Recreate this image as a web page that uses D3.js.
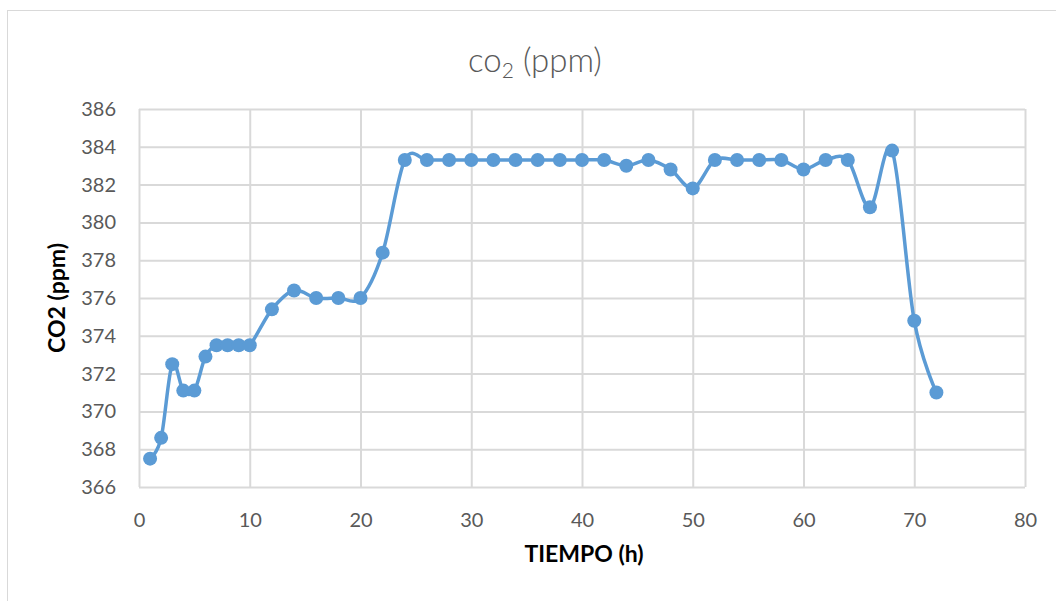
<!DOCTYPE html>
<html>
<head>
<meta charset="utf-8">
<script src="https://cdn.jsdelivr.net/npm/d3@7"></script>
<style>
  html, body { margin: 0; padding: 0; background: #fff; }
  svg { display: block; }
</style>
</head>
<body>
<svg id="chart" width="1056" height="601"></svg>
<script>
// Hourly CO2 readings (ppm)
const hours = [1, 2, 3, 4, 5, 6, 7, 8, 9, 10, 12, 14, 16, 18, 20, 22, 24, 26, 28, 30,
               32, 34, 36, 38, 40, 42, 44, 46, 48, 50, 52, 54, 56, 58, 60, 62, 64, 66, 68, 70, 72];
const co2 = [367.5, 368.6, 372.5, 371.1, 371.1, 372.9, 373.5, 373.5, 373.5, 373.5,
             375.4, 376.4, 376.0, 376.0, 376.0, 378.4, 383.3, 383.3, 383.3, 383.3,
             383.3, 383.3, 383.3, 383.3, 383.3, 383.3, 383.0, 383.3, 382.8, 381.8,
             383.3, 383.3, 383.3, 383.3, 382.8, 383.3, 383.3, 380.8, 383.8, 374.8, 371.0];
const xTicks = [0, 10, 20, 30, 40, 50, 60, 70, 80];
const yTicks = [366, 368, 370, 372, 374, 376, 378, 380, 382, 384, 386];

const points = hours.map((h, i) => ({ h, v: co2[i] }));

const svg = d3.select("#chart");
const plot = { left: 139, right: 1025, top: 109, bottom: 487 };

const x = d3.scaleLinear().domain([0, 80]).range([plot.left, plot.right]);
const y = d3.scaleLinear().domain([366, 386]).range([plot.bottom, plot.top]);

const font = "Lato, 'Open Sans', sans-serif";
const gray = "#595959";
const gridColor = "#d9d9d9";

// Chart frame
svg.append("rect")
  .attr("x", 7.5).attr("y", 10.5)
  .attr("width", 1060).attr("height", 600)
  .attr("fill", "none").attr("stroke", gridColor).attr("stroke-width", 1);

// Horizontal gridlines
svg.append("g")
  .attr("transform", `translate(${plot.left},0)`)
  .call(d3.axisLeft(y).tickValues(yTicks).tickSize(-(plot.right - plot.left)).tickFormat(""))
  .call(g => g.select(".domain").remove())
  .call(g => g.selectAll("line").attr("stroke", gridColor).attr("stroke-width", 2));

// Vertical gridlines
svg.append("g")
  .attr("transform", `translate(0,${plot.bottom})`)
  .call(d3.axisBottom(x).tickValues(xTicks).tickSize(-(plot.bottom - plot.top)).tickFormat(""))
  .call(g => g.select(".domain").remove())
  .call(g => g.selectAll("line").attr("stroke", gridColor).attr("stroke-width", 2));

// Y tick labels
svg.append("g")
  .attr("transform", `translate(${plot.left},0)`)
  .call(d3.axisLeft(y).tickValues(yTicks).tickSize(0).tickPadding(23).tickFormat(d3.format("d")))
  .call(g => g.select(".domain").remove())
  .call(g => g.selectAll("text")
    .attr("fill", gray).attr("font-family", font).attr("font-size", 20));

// X tick labels
svg.append("g")
  .attr("transform", `translate(0,${plot.bottom})`)
  .call(d3.axisBottom(x).tickValues(xTicks).tickSize(0).tickPadding(26).tickFormat(d3.format("d")))
  .call(g => g.select(".domain").remove())
  .call(g => g.selectAll("text")
    .attr("fill", gray).attr("font-family", font).attr("font-size", 20));

// Series line
const line = d3.line()
  .x(d => x(d.h))
  .y(d => y(d.v))
  .curve(d3.curveCatmullRom.alpha(0));

svg.append("path")
  .datum(points)
  .attr("d", line)
  .attr("fill", "none")
  .attr("stroke", "#5b9bd5")
  .attr("stroke-width", 3.5)
  .attr("stroke-linejoin", "round");

// Markers
svg.append("g")
  .selectAll("circle")
  .data(points)
  .join("circle")
  .attr("cx", d => x(d.h))
  .attr("cy", d => y(d.v))
  .attr("r", 7)
  .attr("fill", "#5b9bd5");

// Title
const title = svg.append("text")
  .attr("x", 535).attr("y", 72)
  .attr("text-anchor", "middle")
  .attr("fill", gray)
  .attr("font-family", font)
  .attr("font-weight", 300)
  .attr("font-size", 33);
title.append("tspan").text("co");
title.append("tspan").attr("font-size", 21).attr("dy", 6).text("2");
title.append("tspan").attr("dy", -6).text(" (ppm)");

// Axis titles
svg.append("text")
  .attr("x", 584).attr("y", 562)
  .attr("text-anchor", "middle")
  .attr("fill", "#000")
  .attr("font-family", font)
  .attr("font-weight", 700)
  .attr("font-size", 23)
  .text("TIEMPO (h)");

svg.append("text")
  .attr("transform", "translate(65,298) rotate(-90)")
  .attr("text-anchor", "middle")
  .attr("fill", "#000")
  .attr("font-family", font)
  .attr("font-weight", 700)
  .attr("font-size", 23)
  .text("CO2 (ppm)");
</script>
</body>
</html>
